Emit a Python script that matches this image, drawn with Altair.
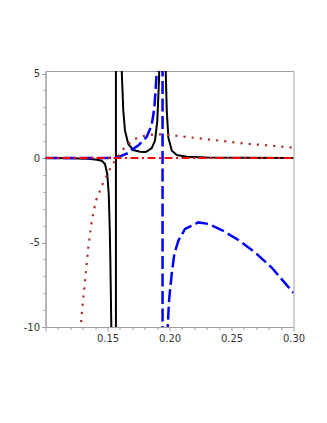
import altair as alt
import pandas as pd

# ---- data ----
# black solid curve, four visible pieces
blk1_x = [0.100, 0.120, 0.135, 0.1413, 0.1453, 0.1480, 0.1498, 0.1510, 0.1518, 0.1523, 0.1531, 0.1532]
blk1_y = [0.0, -0.01, -0.04, -0.10, -0.16, -0.35, -0.94, -2.13, -4.11, -6.08, -10.04, -10.6]
blk2_x = [0.1568, 0.1568]
blk2_y = [-10.6, 5.6]
blk3_x = [0.1612, 0.16145, 0.16274, 0.16411, 0.16677, 0.17081, 0.17621, 0.1802, 0.18161, 0.18565, 0.18831, 0.19016, 0.19153, 0.1918]
blk3_y = [5.6, 5.2, 2.8, 1.62, 0.83, 0.47, 0.37, 0.36, 0.38, 0.59, 1.03, 2.2, 4.6, 5.6]
blk4_x = [0.1968, 0.1970, 0.1978, 0.1991, 0.2019, 0.2059, 0.2140, 0.230, 0.260, 0.300]
blk4_y = [5.6, 5.0, 2.8, 1.2, 0.43, 0.18, 0.08, 0.03, 0.01, 0.0]

# blue dashed curve
blu1_x = [0.100, 0.130, 0.150, 0.156, 0.160, 0.167, 0.1708, 0.175, 0.1816, 0.18565, 0.18774, 0.18887, 0.18968, 0.1903]
blu1_y = [0.0, 0.0, 0.0, 0.02, 0.10, 0.30, 0.55, 0.75, 1.25, 1.95, 2.94, 4.1, 5.1, 5.6]
blu2_x = [0.1944, 0.1944]
blu2_y = [5.6, -10.6]
blu3_x = [0.1984, 0.19855, 0.1996, 0.20177, 0.20387, 0.2071, 0.2125, 0.2232, 0.2313, 0.2421, 0.2555, 0.2690, 0.2824, 0.2985, 0.300]
blu3_y = [-10.6, -10.04, -8.46, -6.87, -5.69, -4.90, -4.20, -3.81, -3.90, -4.26, -4.85, -5.59, -6.48, -7.86, -7.98]

# brown dotted curve
brn_x = [0.1283, 0.1286, 0.1305, 0.1327, 0.1345, 0.1373, 0.1407, 0.1440, 0.1466, 0.1494, 0.1531,
         0.1587, 0.1641, 0.1695, 0.1748, 0.1816, 0.1883, 0.1950, 0.2018, 0.2085, 0.2273, 0.2461,
         0.2623, 0.2810, 0.2958, 0.300]
brn_y = [-10.2, -9.75, -8.26, -6.68, -5.30, -3.71, -2.52, -1.93, -1.44, -1.04, -0.48,
         0.12, 0.66, 1.00, 1.22, 1.35, 1.39, 1.41, 1.35, 1.29, 1.14, 0.98,
         0.84, 0.74, 0.64, 0.62]

# red dash-dot line
red_x = [0.100, 0.300]
red_y = [0.0, 0.0]

x_ticks = [round(0.10 + 0.01 * i, 2) for i in range(21)]
y_ticks = list(range(-10, 6))


def frame(xs, ys, seg):
    return pd.DataFrame({"x": xs, "y": ys, "seg": seg, "o": range(len(xs))})


black = pd.concat([frame(blk1_x, blk1_y, "a"), frame(blk2_x, blk2_y, "b"),
                   frame(blk3_x, blk3_y, "c"), frame(blk4_x, blk4_y, "d")])
blue = pd.concat([frame(blu1_x, blu1_y, "a"), frame(blu2_x, blu2_y, "b"),
                  frame(blu3_x, blu3_y, "c")])
brown = frame(brn_x, brn_y, "a")
red = frame(red_x, red_y, "a")

xs = alt.Scale(domain=[0.10, 0.30], nice=False, zero=False)
ys = alt.Scale(domain=[-10, 5.15], nice=False, zero=False)

x_axis = alt.Axis(
    values=x_ticks, title=None, grid=False,
    labelExpr="(round(datum.value*100) % 5 === 0 && datum.value > 0.105) ? format(datum.value, '.2f') : ''",
    labelFlush=False, labelOverlap=False,
    tickSize={"condition": {"test": "round(datum.value*100) % 5 === 0", "value": 4}, "value": 2.5},
    domainColor="#a0a0a0", tickColor="#a0a0a0", labelColor="#333333",
    labelFont="DejaVu Sans", labelFontSize=10, labelPadding=2,
)
y_axis = alt.Axis(
    values=y_ticks, title=None, grid=False,
    labelExpr="datum.value % 5 === 0 ? (datum.value < 0 ? '-' + abs(datum.value) : '' + datum.value) : ''",
    labelFlush=False, labelOverlap=False,
    tickSize={"condition": {"test": "datum.value % 5 === 0", "value": 4}, "value": 2.5},
    domainColor="#a0a0a0", tickColor="#a0a0a0", labelColor="#333333",
    labelFont="DejaVu Sans", labelFontSize=10, labelPadding=2,
)


def layer(df, color, width, dash=None, cap="butt"):
    kw = dict(color=color, strokeWidth=width, clip=True, strokeCap=cap)
    if dash:
        kw["strokeDash"] = dash
    return alt.Chart(df).mark_line(**kw).encode(
        x=alt.X("x:Q", scale=xs, axis=x_axis),
        y=alt.Y("y:Q", scale=ys, axis=y_axis),
        detail="seg:N",
        order="o:Q",
    )


chart = alt.layer(
    layer(black, "#000000", 2),
    layer(blue, "#0000ff", 2.5, dash=[13, 4.5]),
    layer(brown, "#a83232", 2.2, dash=[2.2, 6]),
    layer(red, "#ff0000", 2, dash=[8, 3.5, 2, 3.5]),
).properties(
    width=248, height=256,
    autosize=alt.AutoSizeParams(type="none"),
    padding={"left": 37.5, "top": 63, "right": 25.5, "bottom": 88},
).configure_view(stroke="#a0a0a0", strokeWidth=1)

chart.save("out.html", embed_options={"renderer": "svg", "actions": False})
